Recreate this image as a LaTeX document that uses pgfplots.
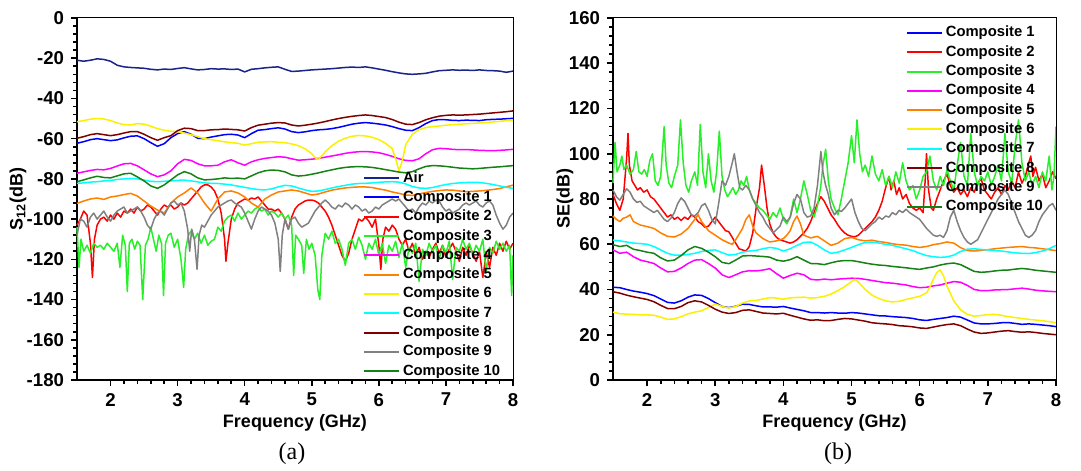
\documentclass[border=0pt]{standalone}
\usepackage{fontspec}
\setmainfont{Liberation Sans}
\newfontfamily\serifface{Liberation Serif}
\usepackage{pgfplots}
\pgfplotsset{compat=1.18}
\definecolor{cair}{RGB}{25,35,140}
\definecolor{cone}{RGB}{0,0,255}
\definecolor{ctwo}{RGB}{255,0,0}
\definecolor{cthree}{RGB}{40,240,40}
\definecolor{cfour}{RGB}{255,0,255}
\definecolor{cfive}{RGB}{255,128,0}
\definecolor{csix}{RGB}{250,240,0}
\definecolor{cseven}{RGB}{0,255,255}
\definecolor{ceight}{RGB}{128,0,0}
\definecolor{cnine}{RGB}{128,128,128}
\definecolor{cten}{RGB}{20,130,20}
\pgfplotsset{
  common/.style={
    scale only axis, height=181bp,
    xmin=1.5, xmax=8, xtick={2,3,4,5,6,7,8}, minor x tick num=4, minor y tick num=4,
    axis x line*=bottom, axis y line*=left,
    axis line style={line width=1.1bp},
    tick align=outside, tick pos=left,
    major tick length=3bp, minor tick length=1.8bp,
    every tick/.style={black, line width=0.8bp},
    ticklabel style={font=\fontsize{9.3bp}{11bp}\selectfont\bfseries},
    label style={font=\fontsize{9bp}{11bp}\selectfont\bfseries},
    xlabel style={yshift=2.5bp},
    /pgf/number format/assume math mode=true,
    every axis plot/.append style={line width=0.75bp, line join=round},
    no markers, clip=false,
    xlabel={Frequency (GHz)},
    legend cell align=left,
    legend image code/.code={\draw[##1, line width=1bp] (0bp,0bp) -- (17.5bp,0bp);},
    legend style={draw=none, fill=none, anchor=north west, inner sep=0pt, outer sep=0pt,
      font=\fontsize{7.4bp}{8bp}\selectfont\bfseries, row sep=2.65bp, column sep=1.5bp,
      nodes={inner sep=0pt, text height=5.5bp, text depth=1.5bp}},
  }
}
\begin{document}
\begin{tikzpicture}
\useasboundingbox (0,0) rectangle (540.5bp,235.5bp);
% ---------------- (a) ----------------
\begin{axis}[common, at={(38.5bp,45.5bp)}, anchor=south west, width=218bp,
  ymin=-180, ymax=0, ytick={-180,-160,...,0},
  ylabel={S\textsubscript{12}(dB)},
  ylabel style={at={(rel axis cs:0,0.5)}, anchor=center, yshift=29.5bp},
  legend style={at={(0.656,0.577)}}]
\addplot[cair] coordinates {(1.5,-21)(1.6,-21.5)(1.7,-21)(1.8,-20.3)(1.9,-20.6)(2.0,-21.5)(2.1,-23.5)(2.2,-24.3)(2.3,-24.6)(2.4,-24.8)(2.5,-25)(2.6,-25.5)(2.7,-25.8)(2.8,-25.4)(2.9,-25.6)(3.0,-25.1)(3.1,-24.7)(3.2,-25.3)(3.3,-25.8)(3.4,-25.6)(3.5,-25.2)(3.6,-25.4)(3.7,-25.3)(3.8,-25.6)(3.9,-25.4)(4.0,-26.8)(4.1,-25.5)(4.2,-25.2)(4.3,-24.8)(4.4,-24.5)(4.5,-24.3)(4.6,-25.5)(4.7,-26.6)(4.8,-26.4)(4.9,-26.1)(5.0,-25.8)(5.1,-25.6)(5.2,-25.4)(5.3,-25.2)(5.4,-24.9)(5.5,-24.6)(5.6,-24.4)(5.7,-24.6)(5.8,-24.3)(5.9,-24.8)(6.0,-25.4)(6.1,-26)(6.2,-26.7)(6.3,-27.3)(6.4,-27.8)(6.5,-28)(6.6,-27.8)(6.7,-27.5)(6.8,-26.8)(6.9,-26.2)(7.0,-26)(7.1,-25.8)(7.2,-26)(7.3,-25.9)(7.4,-26.1)(7.5,-25.8)(7.6,-26.1)(7.7,-26.2)(7.8,-26.4)(7.9,-27)(8.0,-26.4)};
\addlegendentry{Air}
\addplot[cone] coordinates {(1.5,-62.3)(1.6,-61.5)(1.7,-60.5)(1.8,-60)(1.9,-60.5)(2.0,-61)(2.1,-60.6)(2.2,-59.6)(2.3,-58.8)(2.4,-58.6)(2.5,-60)(2.6,-62)(2.7,-63.8)(2.8,-62.5)(2.9,-59.5)(3.0,-57.5)(3.1,-56.5)(3.2,-57.8)(3.3,-59.8)(3.4,-60)(3.5,-59.2)(3.6,-58.6)(3.7,-58)(3.8,-57.8)(3.9,-58.2)(4.0,-59.5)(4.1,-57.5)(4.2,-55.8)(4.3,-55.5)(4.4,-55)(4.5,-54.6)(4.6,-55.2)(4.7,-56.5)(4.8,-57)(4.9,-56.6)(5.0,-56)(5.1,-55.6)(5.2,-55.4)(5.3,-55)(5.4,-54.4)(5.5,-53.6)(5.6,-52.8)(5.7,-52.3)(5.8,-52)(5.9,-52.3)(6.0,-52.7)(6.1,-53.2)(6.2,-54)(6.3,-55)(6.4,-55.8)(6.5,-56)(6.6,-54.5)(6.7,-52.5)(6.8,-51)(6.9,-50.5)(7.0,-50.6)(7.1,-50.9)(7.2,-51)(7.3,-50.8)(7.4,-50.9)(7.5,-51)(7.6,-50.6)(7.7,-50.4)(7.8,-50.3)(7.9,-50.1)(8.0,-49.9)};
\addlegendentry{Composite 1}
\addplot[ctwo] coordinates {(1.50,-103)(1.55,-100)(1.60,-96)(1.65,-98)(1.70,-112)(1.73,-129)(1.76,-110)(1.80,-103)(1.85,-100)(1.90,-99)(1.95,-101)(2.00,-98)(2.05,-100)(2.10,-97)(2.15,-99)(2.20,-96)(2.25,-97)(2.30,-95)(2.35,-97)(2.40,-94)(2.45,-96)(2.50,-95)(2.55,-93)(2.60,-94)(2.65,-96)(2.70,-98)(2.75,-95)(2.80,-93)(2.85,-94)(2.90,-93)(2.95,-95)(3.00,-94)(3.05,-92)(3.10,-93)(3.15,-92)(3.20,-90)(3.25,-88)(3.30,-86)(3.35,-84)(3.40,-83)(3.45,-83)(3.50,-84)(3.55,-86)(3.60,-90)(3.65,-97)(3.70,-110)(3.72,-121)(3.75,-112)(3.80,-100)(3.85,-95)(3.90,-92)(3.95,-91)(4.00,-90)(4.05,-90.5)(4.10,-89.5)(4.15,-90)(4.20,-89)(4.25,-91)(4.30,-93)(4.35,-95)(4.40,-95)(4.45,-96)(4.50,-95)(4.55,-97)(4.60,-100)(4.65,-105)(4.70,-99)(4.75,-95)(4.80,-93)(4.85,-92)(4.90,-91)(4.95,-90.5)(5.00,-90.5)(5.05,-91)(5.10,-92)(5.15,-94)(5.20,-96)(5.25,-99)(5.30,-103)(5.35,-108)(5.40,-113)(5.45,-118)(5.50,-121)(5.55,-117)(5.60,-110)(5.65,-105)(5.70,-100)(5.75,-101)(5.80,-99)(5.85,-101)(5.90,-104)(5.95,-100)(6.00,-113)(6.03,-125)(6.06,-110)(6.10,-104)(6.15,-106)(6.20,-103)(6.25,-105)(6.30,-110)(6.35,-113)(6.40,-110)(6.45,-116)(6.50,-112)(6.55,-118)(6.60,-114)(6.65,-120)(6.70,-116)(6.75,-119)(6.80,-115)(6.85,-112)(6.90,-117)(6.95,-113)(7.00,-119)(7.05,-115)(7.10,-112)(7.15,-116)(7.20,-121)(7.25,-114)(7.30,-118)(7.35,-113)(7.40,-117)(7.45,-121)(7.50,-116)(7.55,-129)(7.58,-122)(7.60,-116)(7.65,-124)(7.70,-114)(7.75,-118)(7.80,-112)(7.85,-116)(7.90,-111)(7.95,-115)(8.00,-112)};
\addlegendentry{Composite 2}
\addplot[cthree] coordinates {(1.50,-104)(1.53,-124)(1.56,-110)(1.60,-116)(1.65,-113)(1.70,-117)(1.75,-112)(1.80,-114)(1.85,-113)(1.90,-115)(1.95,-112)(2.00,-114)(2.05,-116)(2.10,-112)(2.14,-124)(2.18,-108)(2.22,-113)(2.25,-136)(2.28,-112)(2.32,-110)(2.36,-115)(2.40,-111)(2.44,-113)(2.48,-140)(2.52,-113)(2.56,-110)(2.60,-104)(2.64,-110)(2.68,-116)(2.72,-108)(2.76,-112)(2.79,-138)(2.82,-112)(2.86,-108)(2.90,-107)(2.95,-114)(3.00,-110)(3.05,-120)(3.09,-134)(3.12,-115)(3.16,-108)(3.20,-106)(3.25,-110)(3.30,-107)(3.35,-112)(3.40,-108)(3.45,-113)(3.50,-111)(3.55,-110)(3.60,-104)(3.65,-106)(3.70,-101)(3.75,-99)(3.80,-98)(3.85,-101)(3.90,-97)(3.95,-100)(4.00,-98)(4.05,-96)(4.10,-97)(4.15,-95)(4.20,-94)(4.25,-96)(4.30,-95)(4.35,-98)(4.40,-96)(4.45,-97)(4.50,-99)(4.55,-97)(4.60,-100)(4.65,-98)(4.70,-103)(4.73,-128)(4.76,-108)(4.80,-110)(4.85,-113)(4.88,-127)(4.92,-110)(4.96,-115)(5.00,-112)(5.05,-118)(5.09,-135)(5.12,-140)(5.15,-118)(5.20,-107)(5.25,-110)(5.30,-106)(5.35,-112)(5.40,-110)(5.45,-115)(5.50,-123)(5.55,-112)(5.60,-110)(5.65,-115)(5.70,-109)(5.75,-113)(5.80,-120)(5.85,-112)(5.90,-115)(5.95,-110)(6.00,-118)(6.05,-112)(6.10,-122)(6.15,-113)(6.20,-116)(6.25,-111)(6.30,-119)(6.35,-112)(6.40,-124)(6.45,-114)(6.50,-117)(6.55,-112)(6.60,-131)(6.65,-115)(6.70,-118)(6.75,-112)(6.80,-116)(6.85,-113)(6.90,-120)(6.95,-113)(7.00,-117)(7.05,-111)(7.10,-130)(7.15,-114)(7.20,-116)(7.25,-110)(7.30,-115)(7.35,-112)(7.40,-118)(7.45,-113)(7.50,-116)(7.55,-110)(7.60,-126)(7.65,-114)(7.70,-117)(7.75,-111)(7.80,-115)(7.85,-112)(7.90,-116)(7.95,-113)(7.98,-138)(8.00,-118)};
\addlegendentry{Composite 3}
\addplot[cfour] coordinates {(1.5,-77.2)(1.6,-76.5)(1.7,-75.8)(1.8,-75.3)(1.9,-75.5)(2.0,-74.8)(2.1,-73.6)(2.2,-72.5)(2.3,-72.3)(2.4,-73.5)(2.5,-75.5)(2.6,-77.5)(2.7,-78.9)(2.8,-78)(2.9,-76)(3.0,-72.5)(3.1,-70.3)(3.2,-70.8)(3.3,-72.5)(3.4,-73.5)(3.5,-73.5)(3.6,-73.2)(3.7,-71.5)(3.8,-70.5)(3.9,-72)(4.0,-73.2)(4.1,-71.5)(4.2,-70.5)(4.3,-69.8)(4.4,-69.4)(4.5,-69)(4.6,-69.2)(4.7,-70)(4.8,-70.7)(4.9,-70.5)(5.0,-70.2)(5.1,-69.8)(5.2,-69.2)(5.3,-68.6)(5.4,-68)(5.5,-67.3)(5.6,-66.8)(5.7,-66.5)(5.8,-66.4)(5.9,-66.6)(6.0,-67)(6.1,-67.8)(6.2,-68.8)(6.3,-70)(6.4,-70.8)(6.5,-71)(6.6,-70)(6.7,-67.5)(6.8,-65.5)(6.9,-64.8)(7.0,-65)(7.1,-65.3)(7.2,-65.5)(7.3,-65.4)(7.4,-65.6)(7.5,-65.8)(7.6,-65.9)(7.7,-66)(7.8,-65.8)(7.9,-65.6)(8.0,-65.3)};
\addlegendentry{Composite 4}
\addplot[cfive] coordinates {(1.5,-92.2)(1.6,-91)(1.7,-90)(1.8,-89.5)(1.9,-90.2)(2.0,-89)(2.1,-88.5)(2.2,-87.8)(2.3,-87.2)(2.4,-88.5)(2.5,-91)(2.6,-93.5)(2.7,-95.5)(2.8,-97)(2.9,-92)(3.0,-89)(3.1,-87)(3.2,-84.5)(3.3,-87)(3.4,-92)(3.5,-96)(3.6,-90)(3.7,-86.5)(3.8,-86)(3.9,-87)(4.0,-89)(4.1,-92)(4.2,-94)(4.3,-90)(4.4,-88)(4.5,-86.5)(4.6,-86)(4.7,-85.5)(4.8,-86)(4.9,-87)(5.0,-88)(5.1,-87.5)(5.2,-86.5)(5.3,-85.6)(5.4,-85)(5.5,-84.5)(5.6,-84.2)(5.7,-84)(5.8,-84)(5.9,-84.3)(6.0,-85)(6.1,-85.6)(6.2,-86.5)(6.3,-87.2)(6.4,-88)(6.5,-88.2)(6.6,-87.5)(6.7,-86.8)(6.8,-86.2)(6.9,-85.8)(7.0,-85.5)(7.1,-85.6)(7.2,-86)(7.3,-86.4)(7.4,-86.2)(7.5,-86)(7.6,-85.7)(7.7,-85.3)(7.8,-84.8)(7.9,-84)(8.0,-83.1)};
\addlegendentry{Composite 5}
\addplot[csix] coordinates {(1.5,-51.6)(1.6,-51)(1.7,-50.3)(1.8,-50)(1.9,-50.2)(2.0,-51)(2.1,-52.2)(2.2,-53)(2.3,-53.2)(2.4,-52.5)(2.5,-52.8)(2.6,-53.8)(2.7,-55)(2.8,-55.8)(2.9,-56.3)(3.0,-56.5)(3.1,-57.2)(3.2,-58)(3.3,-59)(3.4,-60)(3.5,-60.5)(3.6,-61)(3.7,-61.6)(3.8,-62)(3.9,-62.3)(4.0,-63.2)(4.1,-62.5)(4.2,-61.8)(4.3,-61.6)(4.4,-61.5)(4.5,-61.8)(4.6,-62)(4.7,-62.6)(4.8,-63.5)(4.9,-65)(5.0,-67.5)(5.05,-69.5)(5.1,-70.3)(5.15,-68.5)(5.2,-66.5)(5.3,-63.5)(5.4,-61.2)(5.5,-59.8)(5.6,-58.8)(5.7,-58.4)(5.8,-58.6)(5.9,-59.3)(6.0,-60.5)(6.1,-62.3)(6.2,-65)(6.25,-70)(6.3,-76)(6.35,-71)(6.4,-63)(6.5,-57.8)(6.6,-55.5)(6.7,-54.5)(6.8,-54)(6.9,-53.7)(7.0,-53.3)(7.1,-53)(7.2,-52.8)(7.3,-52.6)(7.4,-52.4)(7.5,-52.2)(7.6,-52)(7.7,-51.7)(7.8,-51.4)(7.9,-51)(8.0,-50.7)};
\addlegendentry{Composite 6}
\addplot[cseven] coordinates {(1.5,-82.2)(1.6,-82)(1.7,-81.6)(1.8,-81.4)(1.9,-81)(2.0,-80.8)(2.1,-80.3)(2.2,-80)(2.3,-79.8)(2.4,-80)(2.5,-80.6)(2.6,-81.2)(2.7,-81.4)(2.8,-81.2)(2.9,-81)(3.0,-80.7)(3.1,-80.6)(3.2,-81)(3.3,-81.5)(3.4,-82)(3.5,-82.2)(3.6,-82.3)(3.7,-82.6)(3.8,-83)(3.9,-83.6)(4.0,-84.2)(4.1,-84.8)(4.2,-85.3)(4.3,-85.5)(4.4,-85)(4.5,-84)(4.6,-83.2)(4.7,-83.5)(4.8,-84.5)(4.9,-85.5)(5.0,-86.2)(5.1,-86)(5.2,-85.3)(5.3,-84.5)(5.4,-83.8)(5.5,-83.2)(5.6,-82.6)(5.7,-82.3)(5.8,-82.2)(5.9,-82)(6.0,-81.7)(6.1,-81.5)(6.2,-81.4)(6.3,-81.6)(6.4,-82.5)(6.5,-83.8)(6.6,-84.5)(6.7,-84.7)(6.8,-84.3)(6.9,-83.5)(7.0,-82.8)(7.1,-82.3)(7.2,-82)(7.3,-81.8)(7.4,-81.7)(7.5,-81.8)(7.6,-82.2)(7.7,-82.8)(7.8,-83.5)(7.9,-84.2)(8.0,-84.7)};
\addlegendentry{Composite 7}
\addplot[ceight] coordinates {(1.5,-59.8)(1.6,-59)(1.7,-58)(1.8,-57.5)(1.9,-58)(2.0,-58.5)(2.1,-58)(2.2,-57.2)(2.3,-56.5)(2.4,-56.5)(2.5,-57.8)(2.6,-59.5)(2.7,-60.8)(2.8,-59.5)(2.9,-58.5)(3.0,-56)(3.1,-54.8)(3.2,-55)(3.3,-56)(3.4,-56)(3.5,-55.6)(3.6,-55.5)(3.7,-55.2)(3.8,-55.4)(3.9,-55.6)(4.0,-56.2)(4.1,-54.5)(4.2,-53.3)(4.3,-52.8)(4.4,-52.3)(4.5,-52)(4.6,-52.2)(4.7,-53.2)(4.8,-53.7)(4.9,-53.3)(5.0,-52.8)(5.1,-52.2)(5.2,-51.5)(5.3,-50.7)(5.4,-50)(5.5,-49.4)(5.6,-48.9)(5.7,-48.5)(5.8,-48.2)(5.9,-48.5)(6.0,-49)(6.1,-49.5)(6.2,-50.5)(6.3,-51.8)(6.4,-52.8)(6.5,-53)(6.6,-52)(6.7,-50.6)(6.8,-49.6)(6.9,-48.8)(7.0,-48.4)(7.1,-48.2)(7.2,-48.3)(7.3,-48.2)(7.4,-48)(7.5,-47.8)(7.6,-47.5)(7.7,-47.2)(7.8,-46.9)(7.9,-46.6)(8.0,-46.2)};
\addlegendentry{Composite 8}
\addplot[cnine] coordinates {(1.50,-108)(1.55,-100)(1.60,-101)(1.65,-104)(1.70,-99)(1.75,-97)(1.80,-100)(1.85,-98)(1.90,-96)(1.95,-99)(2.00,-101)(2.05,-98)(2.10,-96)(2.15,-95)(2.20,-94)(2.25,-97)(2.30,-96)(2.35,-95)(2.40,-94)(2.45,-96)(2.50,-99)(2.55,-103)(2.60,-105)(2.65,-100)(2.70,-97)(2.75,-96)(2.80,-98)(2.85,-95)(2.90,-92)(2.95,-91)(3.00,-93)(3.05,-92)(3.10,-96)(3.15,-105)(3.18,-116)(3.21,-105)(3.25,-110)(3.29,-125)(3.32,-108)(3.36,-103)(3.40,-104)(3.45,-101)(3.50,-98)(3.55,-96)(3.60,-94)(3.65,-93)(3.70,-92)(3.75,-91)(3.80,-90.5)(3.85,-92)(3.90,-93)(3.95,-94)(4.00,-97)(4.05,-101)(4.10,-105)(4.15,-100)(4.20,-96)(4.25,-94)(4.30,-95)(4.35,-96)(4.40,-98)(4.45,-102)(4.50,-110)(4.53,-126)(4.56,-108)(4.60,-100)(4.65,-105)(4.70,-100)(4.75,-99)(4.80,-102)(4.85,-104)(4.90,-103)(4.95,-102)(5.00,-99)(5.05,-96)(5.10,-94)(5.15,-92)(5.20,-90.5)(5.25,-92)(5.30,-94)(5.35,-95)(5.40,-93)(5.45,-94)(5.50,-92)(5.55,-93)(5.60,-95)(5.65,-93)(5.70,-94)(5.75,-96)(5.80,-95)(5.85,-97)(5.90,-96)(5.95,-94)(6.00,-95)(6.05,-93)(6.10,-92)(6.15,-91)(6.20,-90)(6.25,-91)(6.30,-90)(6.35,-92)(6.40,-94)(6.45,-96)(6.50,-95)(6.55,-97)(6.60,-94)(6.65,-92)(6.70,-93)(6.75,-91)(6.80,-92)(6.85,-90.5)(6.90,-91)(6.95,-94)(7.00,-96)(7.05,-95)(7.10,-97)(7.15,-96)(7.20,-95)(7.25,-93)(7.30,-92)(7.35,-93)(7.40,-92)(7.45,-91)(7.50,-93)(7.55,-94)(7.60,-92)(7.65,-91)(7.70,-93)(7.75,-98)(7.80,-102)(7.85,-105)(7.90,-103)(7.95,-99)(8.00,-97)};
\addlegendentry{Composite 9}
\addplot[cten] coordinates {(1.5,-81.4)(1.6,-80.5)(1.7,-79.5)(1.8,-78.7)(1.9,-79.3)(2.0,-79.5)(2.1,-78.5)(2.2,-77.5)(2.3,-77.2)(2.4,-79)(2.5,-81)(2.6,-83.5)(2.7,-84.7)(2.8,-83)(2.9,-80.5)(3.0,-78)(3.1,-76.4)(3.2,-77.5)(3.3,-79.5)(3.4,-80.5)(3.5,-80.3)(3.6,-80)(3.7,-79.5)(3.8,-79.8)(3.9,-79.6)(4.0,-80)(4.1,-78.5)(4.2,-77)(4.3,-76)(4.4,-75.6)(4.5,-75.8)(4.6,-76.5)(4.7,-78)(4.8,-78.6)(4.9,-78.3)(5.0,-77.7)(5.1,-77)(5.2,-76.2)(5.3,-75.5)(5.4,-74.8)(5.5,-74.3)(5.6,-74)(5.7,-73.9)(5.8,-74)(5.9,-74.3)(6.0,-74.8)(6.1,-75.4)(6.2,-76)(6.3,-76.6)(6.4,-77)(6.5,-76.4)(6.6,-75)(6.7,-73.8)(6.8,-73.4)(6.9,-73.5)(7.0,-73.8)(7.1,-74.2)(7.2,-74.6)(7.3,-74.8)(7.4,-75)(7.5,-74.8)(7.6,-74.5)(7.7,-74.2)(7.8,-74)(7.9,-73.7)(8.0,-73.4)};
\addlegendentry{Composite 10}
\draw[line width=0.5bp] (rel axis cs:0,1) -- (rel axis cs:1,1) -- (rel axis cs:1,0);
\end{axis}
% ---------------- (b) ----------------
\begin{axis}[common, at={(306.5bp,45.5bp)}, anchor=south west, width=221.5bp,
  ymin=0, ymax=160, ytick={0,20,...,160},
  ylabel={SE(dB)},
  ylabel style={at={(rel axis cs:0,0.5)}, anchor=center, yshift=24bp},
  legend style={at={(0.661,0.978)}}]
\addplot[cone] coordinates {(1.5,41)(1.6,40.8)(1.7,40)(1.8,39.3)(1.9,38.8)(2.0,38.2)(2.1,37.3)(2.2,35.8)(2.3,34.3)(2.4,34)(2.5,35)(2.6,36.6)(2.7,37.6)(2.8,37.4)(2.9,36)(3.0,34.2)(3.1,32.5)(3.2,32)(3.3,32.6)(3.4,33.5)(3.5,33.4)(3.6,32.8)(3.7,32.3)(3.8,32.3)(3.9,32.2)(4.0,32.5)(4.1,31.8)(4.2,31.2)(4.3,30.6)(4.4,29.8)(4.5,29.8)(4.6,29.6)(4.7,29.8)(4.8,29.6)(4.9,29.5)(5.0,29.8)(5.1,29.6)(5.2,29.2)(5.3,28.8)(5.4,28.4)(5.5,28.3)(5.6,28)(5.7,27.8)(5.8,27.6)(5.9,27.2)(6.0,26.6)(6.1,26.3)(6.2,26.8)(6.3,27.2)(6.4,27.6)(6.5,28.2)(6.6,27.8)(6.7,26.5)(6.8,25.2)(6.9,24.8)(7.0,24.8)(7.1,25)(7.2,25.3)(7.3,25.4)(7.4,25)(7.5,24.6)(7.6,24.8)(7.7,24.6)(7.8,24.3)(7.9,24.0)(8.0,23.6)};
\addlegendentry{Composite 1}
\addplot[ctwo] coordinates {(1.50,82)(1.55,78)(1.60,75)(1.65,80)(1.70,98)(1.72,109)(1.74,95)(1.78,88)(1.82,86)(1.86,84)(1.90,85)(1.95,83)(2.00,84)(2.05,81)(2.10,80)(2.15,78)(2.20,76)(2.25,74)(2.30,72)(2.35,73)(2.40,71)(2.45,72)(2.50,70.5)(2.55,72)(2.60,71)(2.65,73)(2.70,72)(2.75,70)(2.80,69)(2.85,67.5)(2.90,68)(2.95,70)(3.00,72)(3.05,70)(3.10,68)(3.15,66)(3.20,65.5)(3.25,63)(3.30,60.5)(3.35,58)(3.40,57.5)(3.45,57)(3.50,59)(3.55,65)(3.60,76)(3.65,85)(3.68,95)(3.72,86)(3.76,76)(3.80,69)(3.85,65)(3.90,63)(3.95,62)(4.00,61.5)(4.05,61)(4.10,60.5)(4.15,61)(4.20,62)(4.25,63.5)(4.30,65)(4.35,67)(4.40,70)(4.45,74)(4.50,78)(4.55,81)(4.60,79)(4.65,76)(4.70,73)(4.75,71)(4.80,68.5)(4.85,66.5)(4.90,65)(4.95,64)(5.00,63.5)(5.05,63.3)(5.10,64)(5.15,65.5)(5.20,67)(5.25,68.5)(5.30,70)(5.35,72)(5.40,75)(5.45,79)(5.50,85)(5.55,90)(5.58,84)(5.62,88)(5.66,82)(5.70,85)(5.75,80)(5.80,82)(5.85,78)(5.90,76)(5.95,75)(6.00,76)(6.05,74)(6.08,88)(6.10,100)(6.13,84)(6.17,76)(6.20,75)(6.25,80)(6.30,84)(6.35,88)(6.40,91)(6.45,86)(6.50,83)(6.55,85)(6.60,82)(6.65,84)(6.70,81)(6.75,85)(6.80,83)(6.85,87)(6.90,89)(6.95,84)(7.00,82)(7.05,80)(7.10,83)(7.15,85)(7.20,82)(7.25,86)(7.30,84)(7.35,88)(7.40,85)(7.45,92)(7.50,87)(7.55,90)(7.60,96)(7.63,99)(7.66,90)(7.70,94)(7.75,88)(7.80,91)(7.85,85)(7.90,88)(7.95,92)(8.00,89)};
\addlegendentry{Composite 2}
\addplot[cthree] coordinates {(1.50,87)(1.53,105)(1.56,92)(1.60,95)(1.63,99)(1.66,93)(1.70,95)(1.75,91)(1.80,93)(1.84,101)(1.88,92)(1.92,91)(1.96,93)(2.00,90)(2.04,97)(2.08,100)(2.12,88)(2.16,86)(2.20,90)(2.25,112)(2.28,95)(2.32,87)(2.36,85)(2.40,90)(2.45,95)(2.49,115)(2.53,96)(2.57,86)(2.61,83)(2.65,88)(2.70,92)(2.74,86)(2.78,113)(2.82,92)(2.86,85)(2.90,100)(2.94,88)(2.98,83)(3.02,92)(3.06,110)(3.10,90)(3.14,84)(3.18,81)(3.22,83)(3.26,85)(3.30,82)(3.34,84)(3.38,88)(3.42,86)(3.46,90)(3.50,84)(3.55,80)(3.60,78)(3.65,76)(3.70,75)(3.75,73)(3.80,71)(3.85,74)(3.90,72)(3.95,76)(4.00,71)(4.05,69)(4.10,72)(4.15,80)(4.20,74)(4.25,80)(4.30,88)(4.35,82)(4.40,75)(4.45,72)(4.50,77)(4.55,86)(4.58,95)(4.62,102)(4.66,88)(4.70,80)(4.75,76)(4.80,73)(4.85,80)(4.90,88)(4.95,96)(5.00,108)(5.04,96)(5.08,115)(5.12,100)(5.16,92)(5.20,95)(5.25,90)(5.30,99)(5.35,91)(5.40,88)(5.45,93)(5.50,86)(5.55,90)(5.60,85)(5.65,92)(5.70,87)(5.75,96)(5.80,88)(5.85,84)(5.90,86)(5.95,80)(6.00,84)(6.05,90)(6.10,92)(6.15,99)(6.20,88)(6.25,84)(6.30,90)(6.35,86)(6.40,93)(6.45,88)(6.50,84)(6.55,95)(6.60,105)(6.65,90)(6.70,86)(6.75,109)(6.80,92)(6.85,86)(6.90,90)(6.95,88)(7.00,92)(7.05,86)(7.10,90)(7.15,95)(7.20,88)(7.25,109)(7.30,92)(7.35,87)(7.40,104)(7.45,115)(7.50,96)(7.55,88)(7.60,92)(7.65,86)(7.70,90)(7.75,85)(7.80,92)(7.85,88)(7.90,99)(7.94,84)(7.97,90)(8.00,112)};
\addlegendentry{Composite 3}
\addplot[cfour] coordinates {(1.5,57.5)(1.6,56)(1.7,56.5)(1.8,54.5)(1.9,53)(2.0,52.3)(2.1,51.5)(2.2,49.5)(2.3,47.8)(2.4,48)(2.5,49.5)(2.6,51.5)(2.7,53)(2.8,53.2)(2.9,51.5)(3.0,49.5)(3.1,46.5)(3.2,45.3)(3.3,46.5)(3.4,47.8)(3.5,48.3)(3.6,48.2)(3.7,48.6)(3.8,49.2)(3.9,47)(4.0,45)(4.1,46.2)(4.2,47.2)(4.3,46.5)(4.4,44.5)(4.5,44.2)(4.6,44.6)(4.7,44.3)(4.8,44.6)(4.9,44.8)(5.0,45)(5.1,44.9)(5.2,44.5)(5.3,44)(5.4,43.5)(5.5,43)(5.6,42.8)(5.7,42.4)(5.8,42)(5.9,41.3)(6.0,40.8)(6.1,41)(6.2,41.6)(6.3,42)(6.4,42.8)(6.5,43.5)(6.6,43.2)(6.7,41.8)(6.8,40)(6.9,39.5)(7.0,39.5)(7.1,39.8)(7.2,39.9)(7.3,40)(7.4,40.3)(7.5,40.6)(7.6,40.2)(7.7,39.7)(7.8,39.4)(7.9,39.2)(8.0,39)};
\addlegendentry{Composite 4}
\addplot[cfive] coordinates {(1.5,72.5)(1.55,71)(1.6,70)(1.65,71.5)(1.7,72)(1.75,73)(1.8,70)(1.9,68.5)(2.0,67.8)(2.1,67)(2.2,65)(2.3,63.5)(2.4,63.2)(2.5,64.5)(2.6,67)(2.7,71)(2.75,73)(2.8,70)(2.9,66)(3.0,64)(3.1,62)(3.2,60.5)(3.25,60)(3.3,62)(3.4,67)(3.45,71)(3.5,73)(3.55,68)(3.6,65)(3.7,62.5)(3.8,61)(3.9,61.5)(4.0,62.5)(4.05,64)(4.1,66)(4.15,70)(4.2,72.5)(4.25,69)(4.3,64)(4.4,62.8)(4.5,63.5)(4.6,61.5)(4.7,59.5)(4.8,60.5)(4.9,62.5)(5.0,63)(5.1,62)(5.2,61.5)(5.3,61.8)(5.4,61.2)(5.5,60.8)(5.6,60.2)(5.7,59.8)(5.8,59.6)(5.9,59)(6.0,58.6)(6.1,59)(6.2,59.8)(6.3,60.3)(6.4,61)(6.5,60.5)(6.6,58.5)(6.7,57.2)(6.8,57)(6.9,57.3)(7.0,57.6)(7.1,58)(7.2,58.3)(7.3,58.6)(7.4,58.8)(7.5,59)(7.6,58.6)(7.7,58.4)(7.8,58)(7.9,57.6)(8.0,57.2)};
\addlegendentry{Composite 5}
\addplot[csix] coordinates {(1.5,30)(1.6,29.3)(1.7,29.1)(1.8,29)(1.9,28.8)(2.0,28.8)(2.1,28.6)(2.2,27.8)(2.3,26.8)(2.4,27)(2.5,28)(2.6,29.2)(2.7,30)(2.8,30.6)(2.9,32)(3.0,33.6)(3.1,32.5)(3.2,31.8)(3.3,32.5)(3.4,34)(3.5,35)(3.6,35.2)(3.7,35.8)(3.8,36.4)(3.9,36.2)(4.0,35.7)(4.1,36.3)(4.2,36.5)(4.3,36.6)(4.4,36.2)(4.5,36.4)(4.6,37)(4.7,38)(4.8,39.5)(4.9,41.3)(5.0,43.5)(5.05,44.5)(5.1,43.3)(5.2,40)(5.3,37.5)(5.4,36)(5.5,35)(5.6,34.5)(5.7,34.8)(5.8,35.6)(5.9,36.3)(6.0,37)(6.1,38.5)(6.15,41)(6.2,44.5)(6.25,47.5)(6.3,48.6)(6.35,46)(6.4,41.5)(6.5,35)(6.6,31)(6.7,29)(6.8,28.2)(6.9,28.5)(7.0,28.9)(7.1,29)(7.2,28.6)(7.3,28)(7.4,27.6)(7.5,27.2)(7.6,26.8)(7.7,26.5)(7.8,26.2)(7.9,25.8)(8.0,25.3)};
\addlegendentry{Composite 6}
\addplot[cseven] coordinates {(1.5,61.8)(1.6,61.5)(1.7,61)(1.8,60.5)(1.9,60.3)(2.0,60)(2.1,59)(2.2,57.5)(2.3,56)(2.4,55.2)(2.5,55.2)(2.6,55.5)(2.7,56)(2.8,56.8)(2.9,57.3)(3.0,57.5)(3.1,56.3)(3.2,55.2)(3.3,55.5)(3.4,56.5)(3.5,57)(3.6,57.3)(3.7,58)(3.8,58.6)(3.9,58.2)(4.0,57)(4.1,58)(4.2,59.5)(4.3,60.8)(4.4,61)(4.5,59.5)(4.6,57.5)(4.7,56)(4.8,56.5)(4.9,57.5)(5.0,58.6)(5.1,59.8)(5.2,60.8)(5.3,61)(5.4,60.5)(5.5,60)(5.6,59.5)(5.7,58.8)(5.8,58)(5.9,57.2)(6.0,56)(6.1,55)(6.2,54.5)(6.3,54.2)(6.4,54.4)(6.5,55.2)(6.6,56.8)(6.7,57.8)(6.8,58)(6.9,57.7)(7.0,57.5)(7.1,57.2)(7.2,57)(7.3,56.6)(7.4,56.2)(7.5,56)(7.6,55.9)(7.7,56.3)(7.8,57)(7.9,58)(8.0,59.5)};
\addlegendentry{Composite 7}
\addplot[ceight] coordinates {(1.5,39)(1.6,38.4)(1.7,37.5)(1.8,36.8)(1.9,36.2)(2.0,35.6)(2.1,34.6)(2.2,33)(2.3,31.6)(2.4,31.5)(2.5,32.5)(2.6,34.2)(2.7,35)(2.8,34.5)(2.9,33)(3.0,31.3)(3.1,30)(3.2,29.4)(3.3,29.8)(3.4,30.8)(3.5,31)(3.6,30.3)(3.7,29.6)(3.8,29.4)(3.9,29.2)(4.0,29.5)(4.1,28.6)(4.2,27.8)(4.3,27)(4.4,26.4)(4.5,26.6)(4.6,26.2)(4.7,26.3)(4.8,26.8)(4.9,27.2)(5.0,27)(5.1,26.5)(5.2,26)(5.3,25.3)(5.4,25)(5.5,24.8)(5.6,24.5)(5.7,24)(5.8,23.8)(5.9,23.5)(6.0,23)(6.1,22.8)(6.2,23.4)(6.3,24)(6.4,24.5)(6.5,24.8)(6.6,24)(6.7,22.5)(6.8,21.2)(6.9,20.6)(7.0,20.8)(7.1,21.2)(7.2,21.6)(7.3,21.8)(7.4,21.4)(7.5,21.1)(7.6,21.3)(7.7,21)(7.8,20.6)(7.9,20.3)(8.0,20)};
\addlegendentry{Composite 8}
\addplot[cnine] coordinates {(1.50,84)(1.55,81)(1.60,79.5)(1.65,82)(1.70,84.5)(1.75,83)(1.80,80)(1.85,78.5)(1.90,79)(1.95,77)(2.00,76)(2.05,75)(2.10,74)(2.15,75)(2.20,73)(2.25,71)(2.30,70)(2.35,71.5)(2.40,74)(2.45,78)(2.50,80.5)(2.55,79)(2.60,76)(2.65,73)(2.70,72.5)(2.75,74)(2.80,77)(2.85,78)(2.90,75)(2.95,71)(3.00,69)(3.05,78)(3.10,88)(3.15,86)(3.20,90)(3.25,96)(3.28,100)(3.32,92)(3.36,85)(3.40,84)(3.45,86)(3.50,84)(3.55,80)(3.60,77)(3.65,74)(3.70,72)(3.75,69)(3.80,67)(3.85,65)(3.90,66.5)(3.95,68)(4.00,72)(4.05,70)(4.10,72)(4.15,78)(4.20,82)(4.25,80)(4.30,74)(4.35,72)(4.40,72.5)(4.45,76)(4.50,86)(4.55,101)(4.58,92)(4.62,86)(4.66,82)(4.70,76)(4.75,73)(4.80,75)(4.85,74.5)(4.90,76)(4.95,78)(5.00,80)(5.05,74)(5.10,70)(5.15,67)(5.20,66)(5.25,67.5)(5.30,69)(5.35,70)(5.40,72)(5.45,71)(5.50,72.5)(5.55,72)(5.60,74)(5.65,73)(5.70,75)(5.75,74)(5.80,75.5)(5.85,74)(5.90,73)(5.95,72)(6.00,71)(6.05,69)(6.10,67)(6.15,65.5)(6.20,64)(6.25,63.5)(6.30,64)(6.35,63)(6.40,66)(6.45,72)(6.50,75)(6.55,70)(6.60,66)(6.65,63)(6.70,61)(6.75,60)(6.80,61)(6.85,62)(6.90,65)(6.95,68)(7.00,71)(7.05,74)(7.10,77)(7.15,80)(7.20,82)(7.25,84)(7.30,82)(7.35,78)(7.40,74)(7.45,70)(7.50,67)(7.55,64)(7.60,63)(7.65,64)(7.70,66)(7.75,70)(7.80,73)(7.85,75)(7.90,77)(7.95,78)(8.00,75)};
\addlegendentry{Composite 9}
\addplot[cten] coordinates {(1.5,59.8)(1.6,59)(1.7,59.5)(1.8,57.8)(1.9,57.2)(2.0,56.5)(2.1,56)(2.2,54)(2.3,52.6)(2.4,53)(2.5,55)(2.6,57.5)(2.7,59)(2.8,58.2)(2.9,56.5)(3.0,54.5)(3.1,52)(3.2,51.4)(3.3,53)(3.4,54.8)(3.5,55)(3.6,54.8)(3.7,54.6)(3.8,54.3)(3.9,53)(4.0,52.5)(4.1,53.2)(4.2,54.5)(4.3,53)(4.4,51.5)(4.5,51.4)(4.6,51)(4.7,51.8)(4.8,52.5)(4.9,52.8)(5.0,52.8)(5.1,52.3)(5.2,51.7)(5.3,51.2)(5.4,50.8)(5.5,50.6)(5.6,50.2)(5.7,49.9)(5.8,49.6)(5.9,49.2)(6.0,48.9)(6.1,49.5)(6.2,50)(6.3,50.8)(6.4,51.4)(6.5,51.7)(6.6,51)(6.7,49.5)(6.8,48)(6.9,47.6)(7.0,47.8)(7.1,48.2)(7.2,48.5)(7.3,48.6)(7.4,49)(7.5,49.3)(7.6,49)(7.7,48.5)(7.8,48.2)(7.9,47.9)(8.0,47.6)};
\addlegendentry{Composite 10}
\draw[line width=0.5bp] (rel axis cs:0,1) -- (rel axis cs:1,1) -- (rel axis cs:1,0);
\end{axis}
\node[font=\serifface\fontsize{12bp}{14bp}\selectfont] at (146bp,8.5bp) {(a)};
\node[font=\serifface\fontsize{12bp}{14bp}\selectfont] at (419bp,8.5bp) {(b)};
\end{tikzpicture}
\end{document}
